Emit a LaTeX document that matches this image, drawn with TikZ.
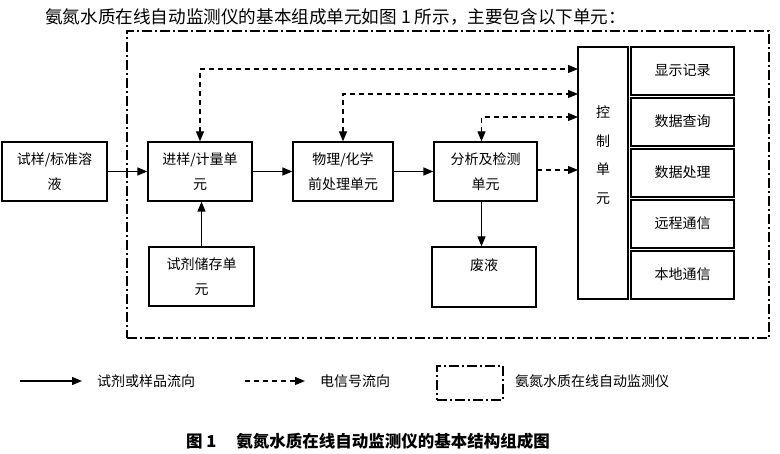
\documentclass[tikz,border=0pt]{standalone}
\usepackage{fontspec}
\setmainfont{Noto Sans CJK SC}
\usetikzlibrary{arrows.meta}
\begin{document}
\begin{tikzpicture}[x=1pt,y=-1pt,
  box/.style={draw,line width=1.3pt,inner sep=0pt,font=\fontsize{14}{25}\selectfont,align=center},
  tip/.tip={Triangle[length=10pt,width=8pt]},
  flow/.style={line width=1.3pt,-tip},
  sig/.style={line width=1.2pt,dash pattern=on 5pt off 4pt,-tip},
  sigb/.style={line width=1.2pt,dash pattern=on 5pt off 4pt,tip-tip},
  frame/.style={draw,line width=1.2pt,dash pattern=on 10pt off 3pt on 2pt off 3pt},
  lab/.style={font=\fontsize{14}{16}\selectfont,anchor=west,inner sep=0pt}
]
\useasboundingbox (0,0) rectangle (780,454);

\node[font=\fontsize{17.6}{18}\selectfont,anchor=west,inner sep=0pt] (intro) at (45,17) {氨氮水质在线自动监测仪的基本组成单元如图 1 所示，主要包含以下单元：};

% instrument frame
\node[frame,minimum width=642pt,minimum height=307pt,inner sep=0pt] (frameA) at (448,184.5) {};

% boxes
\node[box,minimum width=105pt,minimum height=59pt] (sample) at (54.5,171.5) {试样/标准溶\\液};
\node[box,minimum width=104pt,minimum height=59pt] (inject) at (200,171.5) {进样/计量单\\元};
\node[box,minimum width=105pt,minimum height=59pt] (reagent) at (201.5,276.5) {试剂储存单\\元};
\node[box,minimum width=100pt,minimum height=59pt] (pre) at (343,171.5) {物理/化学\\前处理单元};
\node[box,minimum width=103pt,minimum height=59pt] (analysis) at (485.5,171.5) {分析及检测\\单元};
\node[box,minimum width=104pt,minimum height=60pt] (waste) at (484,277) {废液\\~};
\node[box,minimum width=50pt,minimum height=252pt] (ctrl) at (603,173) {};
\node[font=\fontsize{14}{28.5}\selectfont,align=center,inner sep=0pt] (ctrltext) at (603,155) {控\\制\\单\\元};

\node[box,minimum width=103pt,minimum height=48pt] (r1) at (682.5,71) {\raisebox{3pt}{显示记录}};
\node[box,minimum width=103pt,minimum height=48pt] (r2) at (682.5,122) {\raisebox{3pt}{数据查询}};
\node[box,minimum width=103pt,minimum height=48pt] (r3) at (682.5,173) {\raisebox{3pt}{数据处理}};
\node[box,minimum width=103pt,minimum height=48pt] (r4) at (682.5,224) {\raisebox{3pt}{远程通信}};
\node[box,minimum width=103pt,minimum height=48pt] (r5) at (682.5,275) {\raisebox{3pt}{本地通信}};

% material flow
\draw[flow] (sample.east) -- (inject.west);
\draw[flow] (inject.east) -- (pre.west);
\draw[flow] (pre.east) -- (analysis.west);
\draw[flow] (reagent.north) -- (reagent.north |- inject.south);
\draw[flow] ([xshift=-4pt]analysis.south) -- ([xshift=-4pt]analysis.south |- waste.north);

% signals
\coordinate (s1) at (578,69);
\coordinate (s2) at (578,94);
\coordinate (s3) at (578,117);
\coordinate (s4) at (578,170);
\coordinate (a4) at (537,170);
\draw[sigb] (inject.north) |- (s1);
\draw[sigb] (pre.north) |- (s2);
\draw[sigb] ([xshift=-4pt]analysis.north) |- (s3);
\draw[sig] (a4) -- (s4);

% legend
\coordinate (l1a) at (20,381);
\coordinate (l1b) at (82,381);
\coordinate (l2a) at (245,381);
\coordinate (l2b) at (305,381);
\draw[flow] (l1a) -- (l1b);
\node[lab] (t1) at (97,381) {试剂或样品流向};
\draw[sig] (l2a) -- (l2b);
\node[lab] (t2) at (320,381) {电信号流向};
\node[frame,minimum width=66pt,minimum height=34pt,inner sep=0pt] (lbox) at (470,383) {};
\node[lab] (t3) at (515,381) {氨氮水质在线自动监测仪};

% caption
\node[font=\fontsize{16.5}{18}\selectfont\bfseries,anchor=west,inner sep=0pt] (cap) at (186,441) {图 1\hspace{1.2em}氨氮水质在线自动监测仪的基本结构组成图};
\end{tikzpicture}
\end{document}
